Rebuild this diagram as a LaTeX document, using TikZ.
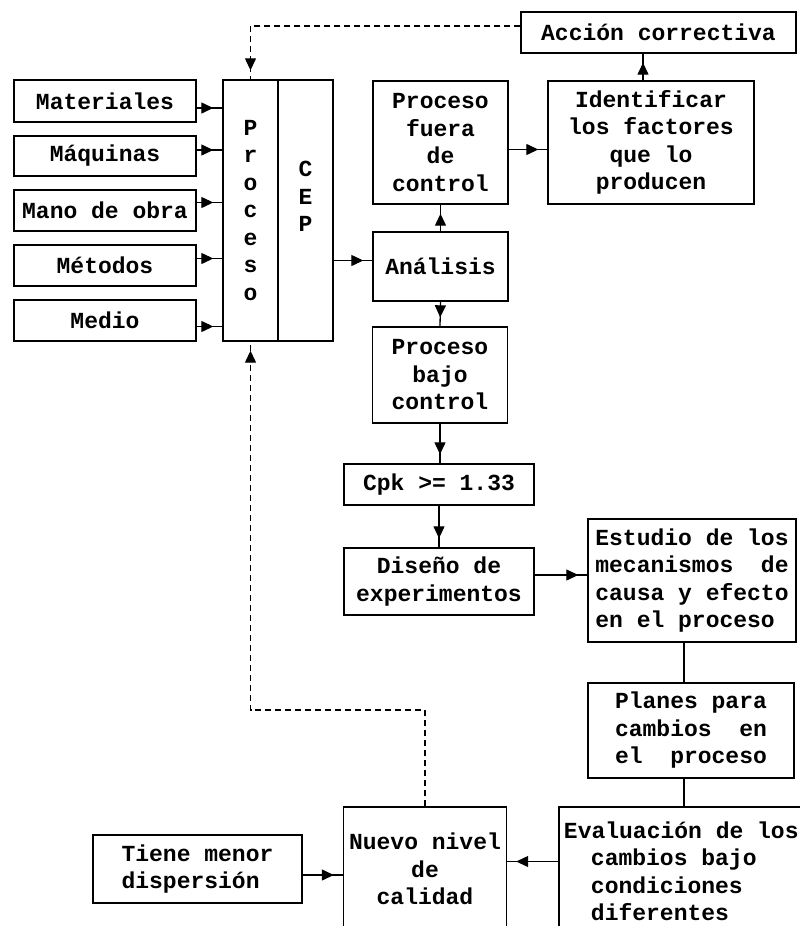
\documentclass[tikz,border=0pt]{standalone}
\usepackage{fontspec}
\newfontfamily\dfont{Liberation Mono}[WordSpace={1,0,0}]
\usetikzlibrary{arrows.meta,decorations.markings}
\tikzset{
  box/.style={draw, line width=1.4pt, inner sep=0pt, align=center,
    font=\dfont\bfseries\fontsize{23}{27.5}\selectfont},
  conn/.style={line width=1.3pt},
  arr/.style={conn, decoration={markings, mark=at position -9pt with {\arrow{Triangle[length=12pt,width=11pt]}}},
    postaction={decorate, solid}},
  dsh/.style={dash pattern=on 6pt off 4pt}
}
\begin{document}
\begin{tikzpicture}[x=1pt,y=-1pt]
\useasboundingbox (0,0) rectangle (800,926);
\clip (0,0) rectangle (800,926);
% inputs
\node[box, minimum width=182pt, minimum height=42pt] (mat) at (105,101) {Materiales};
\node[box, minimum width=182pt, minimum height=40pt] (maq) at (105,156) {Máquinas};
\node[box, minimum width=182pt, minimum height=41pt] (mano) at (105,210.5) {Mano de obra};
\node[box, minimum width=182pt, minimum height=41pt] (met) at (105,265.5) {Métodos};
\node[box, minimum width=182pt, minimum height=41pt] (med) at (105,320.5) {Medio};
% proceso / CEP
\node[box, minimum width=55pt, minimum height=261pt] (procL) at (250.5,210.5) {P\\r\\o\\c\\e\\s\\o};
\node[box, minimum width=55pt, minimum height=261pt] (procR) at (305.5,210.5) {C\\E\\P\\~};
% right column
\node[box, minimum width=275pt, minimum height=41pt] (acc) at (658.5,32.5) {Acción correctiva};
\node[box, minimum width=135pt, minimum height=123pt] (fuera) at (440.5,142.5) {Proceso\\fuera\\de\\control};
\node[box, minimum width=206pt, minimum height=123pt] (ident) at (651,142.5) {Identificar\\los factores\\que lo\\producen};
\node[box, minimum width=135pt, minimum height=69pt] (anal) at (440.5,266.5) {Análisis};
\node[box, minimum width=135pt, minimum height=96pt] (bajo) at (440,375) {Proceso\\bajo\\control};
\node[box, minimum width=190pt, minimum height=41pt] (cpk) at (439,484.5) {Cpk >= 1.33};
\node[box, minimum width=190pt, minimum height=67pt] (dis) at (439,581.5) {Diseño de\\experimentos};
\node[box, align=left, minimum width=208pt, minimum height=123pt] (est) at (692,580.5) {Estudio de los\\mecanismos\ \ de\\causa y efecto\\en el proceso};
\node[box, minimum width=206pt, minimum height=95pt] (plan) at (691,730.5) {Planes para\\cambios\ \ en\\el\ \ proceso};
\node[box, align=left, minimum width=244.6pt, minimum height=129pt] (eval) at (681.3,871.5) {Evaluación de los\\\hspace*{27pt}cambios bajo\\\hspace*{27pt}condiciones\\\hspace*{27pt}diferentes};
\node[box, minimum width=163pt, minimum height=124pt] (nuevo) at (425,869) {Nuevo nivel\\de\\calidad};
\node[box, minimum width=209pt, minimum height=68pt, align=left] (tiene) at (197.5,869) {Tiene menor\\dispersión};
% input arrows
\draw[arr] ([yshift=-7pt]mat.east) -- ([yshift=-7pt]mat.east -| procL.west);
\draw[arr] ([yshift=6pt]maq.east) -- ([yshift=6pt]maq.east -| procL.west);
\draw[arr] ([yshift=8pt]mano.east) -- ([yshift=8pt]mano.east -| procL.west);
\draw[arr] ([yshift=7pt]met.east) -- ([yshift=7pt]met.east -| procL.west);
\draw[arr] ([yshift=-6pt]med.east) -- ([yshift=-6pt]med.east -| procL.west);
% flow
\draw[arr] ([yshift=6pt]anal.west -| procR.east) -- ([yshift=6pt]anal.west);
\draw[arr] (anal.north) -- (fuera.south);
\draw[arr] (anal.south) -- (bajo.north);
\draw[arr] ([yshift=-7pt]fuera.east) -- ([yshift=-7pt]fuera.east -| ident.west);
\draw[arr] ([xshift=-8pt]ident.north) -- ([xshift=-8pt]ident.north |- acc.south);
\draw[arr, dsh] ([yshift=6.5pt]acc.west) -| (procL.north);
\draw[arr] (bajo.south) -- (bajo.south |- cpk.north);
\draw[arr] (cpk.south) -- (dis.north);
\draw[arr] ([yshift=6.5pt]dis.east) -- ([yshift=6.5pt]dis.east -| est.west);
\draw[conn] ([xshift=-8pt]est.south) -- ([xshift=-8pt]est.south |- plan.north);
\draw[conn] ([xshift=-7pt]plan.south) -- ([xshift=-7pt]plan.south |- eval.north);
\draw[arr] ([yshift=10pt]eval.west) -- ([yshift=10pt]eval.west -| nuevo.east);
\draw[arr] ([yshift=-6pt]tiene.east) -- ([yshift=-6pt]tiene.east -| nuevo.west);
\coordinate (dj) at (300,710);
\draw[arr, dsh] (nuevo.north) |- (dj) -| (procL.south);
\end{tikzpicture}
\end{document}
